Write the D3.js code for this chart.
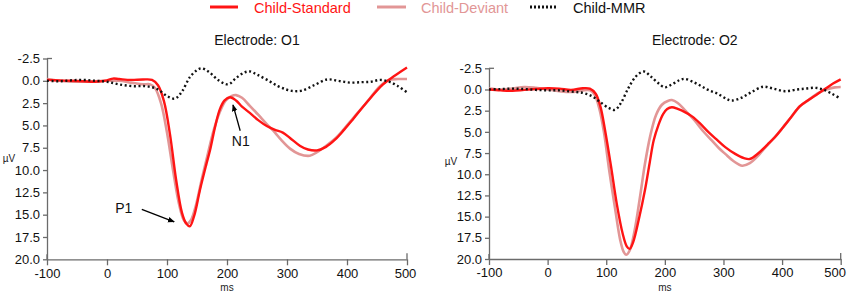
<!DOCTYPE html>
<html>
<head>
<meta charset="utf-8">
<script src="https://cdn.jsdelivr.net/npm/d3@7"></script>
<style>
  body { margin: 0; background: #fff; }
  text { font-family: "Liberation Sans", Arial, sans-serif; }
</style>
</head>
<body>
<div id="chart"></div>
<script>
// values: [ms, µV]  (positive down on the y axis)
let o1Standard = [[-100,-0.1],[-80,-0.05],[-60,0.0],[-40,0.05],[-20,0.1],[0,-0.05],[10,-0.25],[20,-0.2],[40,-0.1],[60,-0.15],[75,-0.1],[85,0.5],[95,2.3],[105,6.0],[115,11.0],[125,14.8],[132,16.0],[138,16.3],[145,15.2],[155,12.2],[165,9.5],[172,7.7],[180,5.2],[188,3.2],[196,2.2],[205,1.85],[215,2.2],[225,2.9],[238,3.6],[252,4.4],[267,5.1],[280,5.5],[293,5.8],[305,6.4],[322,7.3],[335,7.7],[350,7.8],[365,7.4],[380,6.6],[395,5.5],[410,4.3],[433,2.4],[460,0.4],[480,-0.6],[500,-1.5]];
let o1Deviant = [[-100,-0.2],[-80,0.0],[-60,0.1],[-40,0.1],[-20,0.05],[0,0.0],[20,0.0],[40,0.2],[60,0.4],[72,0.4],[80,0.8],[90,2.5],[100,5.8],[110,10.0],[120,13.8],[128,15.6],[134,16.0],[140,15.6],[148,14.0],[158,11.0],[168,8.2],[178,5.5],[188,3.5],[198,2.2],[208,1.7],[215,1.6],[225,1.9],[238,2.8],[252,3.8],[267,4.9],[280,5.8],[290,6.6],[305,7.6],[320,8.2],[338,8.4],[350,8.0],[365,7.3],[380,6.5],[395,5.4],[410,4.2],[433,2.4],[455,0.6],[470,-0.1],[485,-0.2],[500,-0.2]];
let o1MMR = [[-100,0],[-80,0.05],[-60,-0.05],[-40,-0.1],[-20,0.0],[0,0.1],[20,0.4],[43,0.6],[65,0.6],[83,0.9],[100,1.7],[113,2.0],[125,1.2],[138,-0.4],[150,-1.2],[158,-1.4],[170,-1.0],[185,-0.1],[202,0.4],[215,-0.3],[228,-0.9],[238,-1.05],[250,-0.7],[267,-0.1],[285,0.6],[300,1.0],[312,1.15],[325,1.1],[345,0.5],[367,-0.15],[385,0.0],[405,0.2],[425,0.15],[440,0.1],[455,-0.1],[470,0.1],[485,0.6],[500,1.3]];

let o2Standard = [[-100,0.0],[-80,0.1],[-60,0.15],[-40,0.05],[-20,-0.05],[0,-0.15],[20,-0.1],[40,0.05],[60,-0.15],[72,-0.1],[82,0.5],[90,2.0],[98,4.8],[108,9.0],[118,13.5],[128,17.0],[135,18.5],[140,18.8],[146,18.0],[156,15.2],[166,11.9],[174,8.7],[181,6.0],[189,4.2],[197,2.9],[204,2.3],[212,2.1],[222,2.3],[235,2.7],[247,3.2],[260,4.0],[274,5.0],[290,6.0],[303,6.8],[320,7.6],[335,8.1],[345,8.2],[360,7.5],[375,6.5],[388,5.6],[400,4.6],[415,3.3],[430,2.0],[445,1.25],[460,0.55],[473,-0.05],[487,-0.7],[500,-1.2]];
let o2Deviant = [[-100,-0.1],[-80,0.0],[-60,-0.1],[-40,-0.3],[-20,-0.2],[0,0.0],[20,0.2],[40,0.3],[60,0.1],[72,0.1],[80,0.6],[88,2.2],[96,5.0],[105,9.5],[115,14.0],[124,17.8],[130,19.2],[134,19.5],[140,19.0],[148,16.8],[158,12.5],[166,8.8],[175,5.5],[185,3.0],[195,1.8],[205,1.35],[212,1.25],[222,1.6],[235,2.5],[250,3.6],[265,4.9],[280,6.0],[292,6.9],[303,7.6],[318,8.5],[332,9.0],[345,8.7],[358,7.9],[368,7.1],[388,5.6],[400,4.6],[415,3.3],[430,2.0],[445,1.25],[460,0.5],[475,0.0],[490,-0.25],[500,-0.3]];
let o2MMR = [[-100,0],[-80,-0.05],[-60,-0.1],[-40,-0.05],[-20,0.05],[0,0.1],[20,0.1],[41,0.25],[60,0.4],[76,0.8],[90,1.5],[105,2.2],[115,2.4],[125,1.6],[138,-0.2],[150,-1.5],[160,-2.05],[166,-2.1],[175,-1.6],[188,-0.8],[200,-0.25],[212,-0.6],[225,-1.1],[234,-1.25],[248,-0.9],[262,-0.4],[274,0.05],[290,0.5],[305,1.1],[314,1.3],[330,1.0],[348,0.3],[368,-0.33],[385,-0.1],[405,0.2],[425,0.0],[440,-0.1],[456,-0.2],[470,0.0],[485,0.5],[499,1.05]];

let xTicks = [-100, 0, 100, 200, 300, 400, 500];
let yTicks = [-2.5, 0, 2.5, 5, 7.5, 10, 12.5, 15, 17.5, 20];
let seriesNames = ["Child-Standard", "Child-Deviant", "Child-MMR"];

// annotations on O1: [label, text pos, arrow tail, arrow head] in data units
let annotations = [
  {label: "P1", text: [28, 14.8], from: [58, 14.4], to: [112, 15.8]},
  {label: "N1", text: [223, 7.3], from: [222, 5.6], to: [210, 2.7]}
];

let colors = {std: "#ff1414", dev: "#e29696", mmr: "#111"};

let W = 850, H = 294;
let svg = d3.select("#chart").append("svg")
  .attr("width", W).attr("height", H);

svg.append("defs").append("marker")
  .attr("id", "arrow")
  .attr("viewBox", "0 0 10 10")
  .attr("refX", 9).attr("refY", 5)
  .attr("markerWidth", 7).attr("markerHeight", 7)
  .attr("markerUnits", "userSpaceOnUse")
  .attr("orient", "auto")
  .append("path").attr("d", "M0,1 L10,5 L0,9 z").attr("fill", "#000");

// legend
let legend = [
  {name: seriesNames[0], x1: 210, x2: 238, tx: 254, color: colors.std, dash: null},
  {name: seriesNames[1], x1: 377, x2: 406, tx: 421, color: colors.dev, dash: null},
  {name: seriesNames[2], x1: 530, x2: 558, tx: 573, color: colors.mmr, dash: "2,2"}
];
legend.forEach(l => {
  svg.append("line")
    .attr("x1", l.x1).attr("x2", l.x2).attr("y1", 7).attr("y2", 7)
    .attr("stroke", l.color).attr("stroke-width", 3)
    .attr("stroke-dasharray", l.dash);
  svg.append("text")
    .attr("x", l.tx).attr("y", 13)
    .attr("font-size", 14.5)
    .attr("fill", l.name == "Child-MMR" ? "#111" : l.color)
    .text(l.name);
});

// plain hyphen instead of d3's unicode minus, like the figure
let fmtY = d => d3.format(".1f")(d).replace("\u2212", "-");
let fmtX = d => String(d);

function drawPanel(cfg){
  let x = d3.scaleLinear().domain([-100, 500]).range([cfg.left, cfg.right]);
  let y = d3.scaleLinear().domain([-2.5, 20]).range([cfg.top, cfg.bottom]);

  let g = svg.append("g");

  let xAxis = d3.axisBottom(x).tickValues(xTicks).tickSize(6).tickSizeOuter(0).tickPadding(3)
    .tickFormat(fmtX);
  let yAxis = d3.axisLeft(y).tickValues(yTicks).tickSize(4).tickSizeOuter(0).tickPadding(3)
    .tickFormat(fmtY);

  let xg = g.append("g").attr("transform", "translate(0," + cfg.bottom + ")").call(xAxis);
  let yg = g.append("g").attr("transform", "translate(" + cfg.left + ",0)").call(yAxis);
  [xg, yg].forEach(a => {
    a.selectAll("path, line").attr("stroke", "#6b6b6b").attr("stroke-width", 1.3);
    a.selectAll("text").attr("font-size", 13).attr("fill", "#111")
      .attr("font-family", "Liberation Sans, Arial, sans-serif");
  });
  // keep the last x label inside the window
  xg.selectAll(".tick text").filter(d => d == 500).attr("dx", cfg.lastDx);

  // end caps crossing the axes
  g.append("line").attr("x1", cfg.left).attr("x2", cfg.left + 5)
    .attr("y1", y(-2.5)).attr("y2", y(-2.5)).attr("stroke", "#6b6b6b").attr("stroke-width", 1.3);
  g.append("line").attr("x1", x(500)).attr("x2", x(500))
    .attr("y1", cfg.bottom).attr("y2", cfg.bottom - 6).attr("stroke", "#6b6b6b").attr("stroke-width", 1.3);
  g.append("line").attr("x1", x(-100)).attr("x2", x(-100))
    .attr("y1", cfg.bottom).attr("y2", cfg.bottom - 5).attr("stroke", "#6b6b6b").attr("stroke-width", 1.3);

  g.append("text").attr("x", (cfg.left + cfg.right) / 2 + cfg.titleShift).attr("y", 45)
    .attr("text-anchor", "middle").attr("font-size", 14).attr("fill", "#111")
    .text(cfg.title);
  g.append("text").attr("x", cfg.muX).attr("y", cfg.muY)
    .attr("text-anchor", "middle").attr("font-size", 10).attr("fill", "#222").text("µV");
  g.append("text").attr("x", x(cfg.msAt)).attr("y", 291)
    .attr("text-anchor", "middle").attr("font-size", 10).attr("fill", "#222").text("ms");

  let line = d3.line()
    .x(d => x(d[0])).y(d => y(d[1]))
    .curve(d3.curveCatmullRom.alpha(0.5));

  g.append("path").datum(cfg.dev).attr("d", line)
    .attr("fill", "none").attr("stroke", colors.dev).attr("stroke-width", 2.6);
  g.append("path").datum(cfg.std).attr("d", line)
    .attr("fill", "none").attr("stroke", colors.std).attr("stroke-width", 2.4);
  g.append("path").datum(cfg.mmr).attr("d", line)
    .attr("fill", "none").attr("stroke", colors.mmr).attr("stroke-width", 2.4)
    .attr("stroke-dasharray", "2,2.6");

  (cfg.notes || []).forEach(a => {
    g.append("line")
      .attr("x1", x(a.from[0])).attr("y1", y(a.from[1]))
      .attr("x2", x(a.to[0])).attr("y2", y(a.to[1]))
      .attr("stroke", "#000").attr("stroke-width", 1.3)
      .attr("marker-end", "url(#arrow)");
    g.append("text").attr("x", x(a.text[0])).attr("y", y(a.text[1]))
      .attr("text-anchor", "middle").attr("font-size", 14).attr("fill", "#111")
      .text(a.label);
  });
}

drawPanel({left: 47, right: 407, top: 58.5, bottom: 259.3, title: "Electrode: O1", titleShift: 30,
  muX: 9, muY: 162, msAt: 200, lastDx: -2, std: o1Standard, dev: o1Deviant, mmr: o1MMR, notes: annotations});
drawPanel({left: 489, right: 840.7, top: 68.3, bottom: 259, title: "Electrode: O2", titleShift: 30,
  muX: 451, muY: 165, msAt: 200, lastDx: -6, std: o2Standard, dev: o2Deviant, mmr: o2MMR});
</script>
</body>
</html>
